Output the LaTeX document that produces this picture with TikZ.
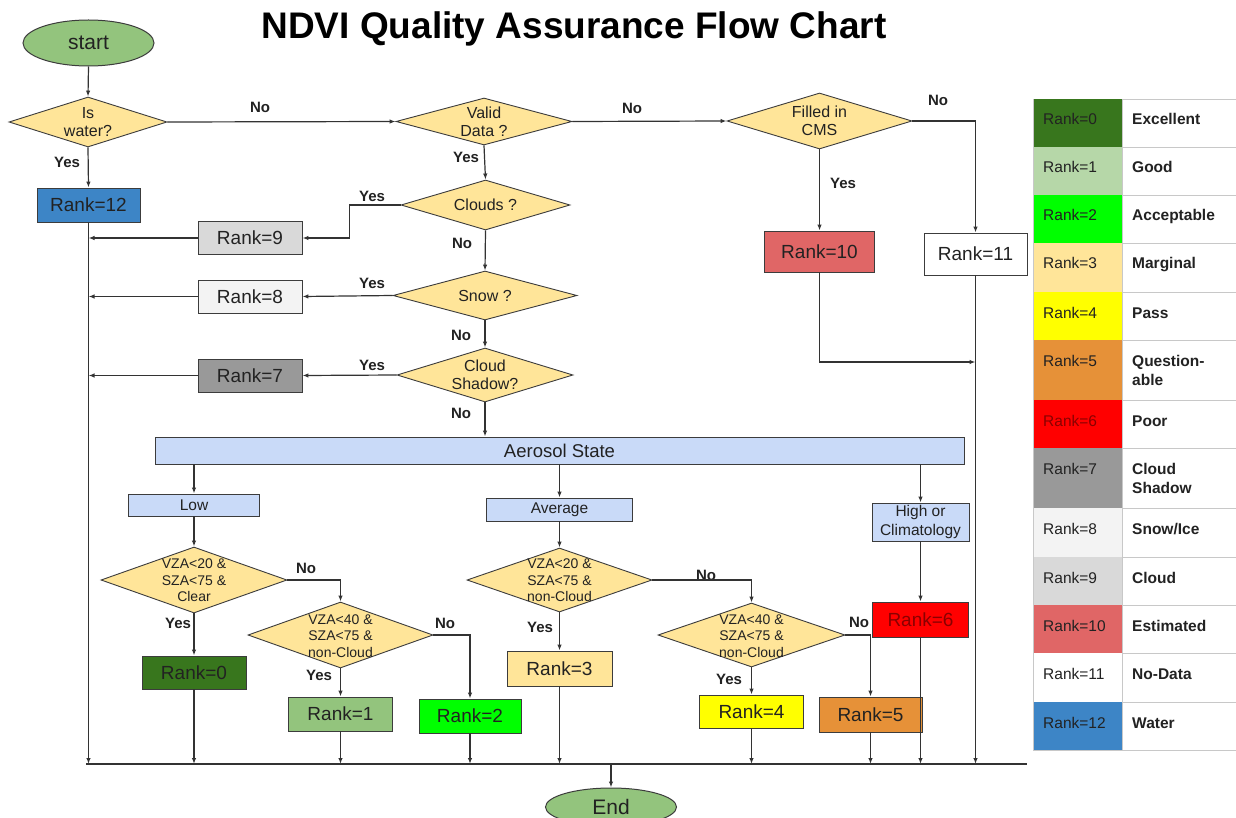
\documentclass[tikz,border=0pt]{standalone}
\usepackage{fontspec}
\setmainfont{Liberation Sans}
\usetikzlibrary{shapes.geometric,arrows.meta,calc}

\definecolor{edge}{HTML}{3C3C3C}
\definecolor{wire}{HTML}{333333}
\definecolor{ink}{HTML}{222222}
\definecolor{rulegray}{HTML}{C8C8C8}
\definecolor{diafill}{HTML}{FFE599}
\definecolor{bluefill}{HTML}{C9DAF8}
\definecolor{termfill}{HTML}{93C47D}
\definecolor{rk0}{HTML}{38761D}
\definecolor{rk1}{HTML}{B6D7A8}
\definecolor{rkone}{HTML}{93C47D}
\definecolor{rk2}{HTML}{00FF00}
\definecolor{rk3}{HTML}{FFE599}
\definecolor{rk4}{HTML}{FFFF00}
\definecolor{rk5}{HTML}{E69138}
\definecolor{rk6}{HTML}{FF0000}
\definecolor{rk7}{HTML}{999999}
\definecolor{rk8}{HTML}{F3F3F3}
\definecolor{rk9}{HTML}{D9D9D9}
\definecolor{rk10}{HTML}{E06666}
\definecolor{rk11}{HTML}{FFFFFF}
\definecolor{rk12}{HTML}{3D85C6}
\definecolor{darkred}{HTML}{8A0000}

\begin{document}
\begin{tikzpicture}[x=1pt,y=-1pt,
  every node/.style={text=ink},
  term/.style={ellipse, draw=edge, fill=termfill, line width=1pt, inner sep=0pt,
    font=\fontsize{21}{24}\selectfont},
  dia/.style={diamond, draw=edge, fill=diafill, line width=0.9pt, inner sep=0pt},
  dtext/.style={align=center, inner sep=0pt, font=\fontsize{16}{18}\selectfont},
  ctext/.style={align=center, inner sep=0pt, font=\fontsize{14}{16.5}\selectfont},
  rbox/.style={rectangle, draw=edge, line width=0.9pt, inner sep=0pt,
    font=\fontsize{19}{22}\selectfont},
  sbox/.style={rectangle, draw=edge, fill=bluefill, line width=0.9pt, inner sep=0pt,
    align=center, font=\fontsize{15.5}{19}\selectfont},
  lab/.style={inner sep=0pt, font={\fontsize{15}{17}\selectfont\bfseries}},
  conn/.style={draw=wire, line width=1.2pt, -{Latex[length=6pt,width=4.5pt]}},
  plain/.style={draw=wire, line width=1.2pt},
  legr/.style={inner sep=0pt, font=\fontsize{15.5}{18}\selectfont},
  legl/.style={inner sep=0pt, font={\fontsize{15.5}{18}\selectfont\bfseries}},
  rule/.style={draw=rulegray, line width=0.9pt}
]
\fill[white] (0,0) rectangle (1236,818);
\useasboundingbox (0,0) rectangle (1236,818);

% title
\node[font={\fontsize{37}{40}\selectfont\bfseries}, text=black] (title) at (574,29)
  {NDVI Quality Assurance Flow Chart};

% terminals
\node[term, minimum width=131, minimum height=46] (start) at (88.5,43) {start};
\node[term, minimum width=131, minimum height=38] (end) at (611,807) {End};

% decision diamonds
\node[dia, minimum width=158, minimum height=50] (isw) at (88,122) {};
\node[dtext] (iswt) at (isw) {Is\\water?};
\node[dia, minimum width=176, minimum height=47] (valid) at (484,121.5) {};
\node[dtext] (validt) at (valid) {Valid\\Data ?};
\node[dia, minimum width=185, minimum height=56] (filled) at (819.5,121) {};
\node[dtext] (filledt) at (filled) {Filled in\\CMS};
\node[dia, minimum width=169, minimum height=50] (clouds) at (485.5,205) {};
\node[dtext] (cloudst) at (clouds) {Clouds ?};
\node[dia, minimum width=184, minimum height=49] (snow) at (485,295.5) {};
\node[dtext] (snowt) at (snow) {Snow ?};
\node[dia, minimum width=176, minimum height=54] (cshadow) at (485,375) {};
\node[dtext] (cshadowt) at (cshadow) {Cloud\\Shadow?};

\node[dia, minimum width=186, minimum height=66] (d1) at (194,580) {};
\node[ctext] (d1t) at (194,580.5) {VZA<20 \&\\SZA<75 \&\\Clear};
\node[dia, minimum width=185, minimum height=66] (d2) at (340.5,635) {};
\node[ctext] (d2t) at (340.5,636) {VZA<40 \&\\SZA<75 \&\\non-Cloud};
\node[dia, minimum width=185, minimum height=64] (d3) at (559.5,580) {};
\node[ctext] (d3t) at (559.5,580.5) {VZA<20 \&\\SZA<75 \&\\non-Cloud};
\node[dia, minimum width=187, minimum height=64] (d4) at (751.5,635) {};
\node[ctext] (d4t) at (751.5,636) {VZA<40 \&\\SZA<75 \&\\non-Cloud};

% rank boxes
\node[rbox, fill=rk12, minimum width=103, minimum height=34] (r12) at (88.5,205) {Rank=12};
\node[rbox, fill=rk10, minimum width=110, minimum height=41] (r10) at (819.5,251.5) {Rank=10};
\node[rbox, fill=rk11, minimum width=103, minimum height=42] (r11) at (975.5,254) {Rank=11};
\node[rbox, fill=rk9, minimum width=104, minimum height=33] (r9) at (250,238) {Rank=9};
\node[rbox, fill=rk8, minimum width=104, minimum height=33] (r8) at (250,296.5) {Rank=8};
\node[rbox, fill=rk7, minimum width=104, minimum height=33] (r7) at (250,375.5) {Rank=7};
\node[rbox, fill=rk0, minimum width=104, minimum height=33] (r0) at (194,672.5) {Rank=0};
\node[rbox, fill=rkone, minimum width=104, minimum height=34] (r1) at (340.5,714) {Rank=1};
\node[rbox, fill=rk2, minimum width=102, minimum height=34] (r2) at (470,716) {Rank=2};
\node[rbox, fill=rk3, minimum width=105, minimum height=35] (r3) at (559.5,668.5) {Rank=3};
\node[rbox, fill=rk4, minimum width=104, minimum height=33] (r4) at (751.5,711.5) {Rank=4};
\node[rbox, fill=rk5, minimum width=103, minimum height=35] (r5) at (870.5,714.5) {Rank=5};
\node[rbox, fill=rk6, text=darkred, minimum width=96, minimum height=35] (r6) at (920.5,619.5) {Rank=6};

% aerosol state boxes
\node[sbox, minimum width=809, minimum height=27, font=\fontsize{18.5}{21}\selectfont]
  (aer) at (559.5,450.5) {Aerosol State};
\node[sbox, minimum width=131, minimum height=22] (low) at (194,505) {Low};
\node[sbox, minimum width=146, minimum height=23] (avg) at (559.5,509.5) {Average};
\node[sbox, minimum width=97, minimum height=38] (high) at (920.5,522) {High or\\Climatology};

% collecting bus
\coordinate (busL) at (86,764);
\coordinate (busR) at (1027,764);
\coordinate (j10) at (r11.south |- 0,362);

% branch labels
\node[lab] (l1) at (260,107) {No};
\node[lab] (l2) at (632,108) {No};
\node[lab] (l3) at (938,100) {No};
\node[lab] (l4) at (67,162) {Yes};
\node[lab] (l5) at (466,157) {Yes};
\node[lab] (l6) at (843,183) {Yes};
\node[lab] (l7) at (372,196) {Yes};
\node[lab] (l8) at (462,243) {No};
\node[lab] (l9) at (372,283) {Yes};
\node[lab] (l10) at (461,335) {No};
\node[lab] (l11) at (372,365) {Yes};
\node[lab] (l12) at (461,413) {No};
\node[lab] (l13) at (306,568) {No};
\node[lab] (l14) at (178,623) {Yes};
\node[lab] (l15) at (445,623) {No};
\node[lab] (l16) at (319,675) {Yes};
\node[lab] (l17) at (706,575) {No};
\node[lab] (l18) at (540,627) {Yes};
\node[lab] (l19) at (859,622) {No};
\node[lab] (l20) at (729,679) {Yes};

% connectors: top part
\draw[conn] (start.south) -- (isw.north);
\draw[conn] (isw.east) -- (valid.west);
\draw[conn] (valid.east) -- (filled.west);
\draw[conn] (filled.east) -| (r11.north);
\draw[conn] (filled.south) -- (r10.north);
\draw[conn] (r10.south) |- (j10);
\draw[conn] (isw.south) -- (r12.north);
\draw[conn] (valid.south) -- (clouds.north);
\draw[conn] (clouds.west) -- ++(-51,0) |- (r9.east);
\draw[conn] (clouds.south) -- (snow.north);
\draw[conn] (snow.south) -- (cshadow.north);
\draw[conn] (cshadow.south) -- (cshadow.south |- aer.north);
\draw[conn] (snow.west) -- (r8.east);
\draw[conn] (cshadow.west) -- (r7.east);
\draw[conn] (r9.west) -- (r9.west -| r12.south);
\draw[conn] (r8.west) -- (r8.west -| r12.south);
\draw[conn] (r7.west) -- (r7.west -| r12.south);

% connectors: aerosol branches
\draw[conn] (aer.south -| low.north) -- (low.north);
\draw[conn] (aer.south -| avg.north) -- (avg.north);
\draw[conn] (aer.south -| high.north) -- (high.north);
\draw[conn] (low.south) -- (d1.north);
\draw[conn] (d1.south) -- (r0.north);
\draw[conn] (d1.east) -| (d2.north);
\draw[conn] (d2.south) -- (r1.north);
\draw[conn] (d2.east) -| (r2.north);
\draw[conn] (avg.south) -- (d3.north);
\draw[conn] (d3.south) -- (r3.north);
\draw[conn] (d3.east) -| (d4.north);
\draw[conn] (d4.south) -- (r4.north);
\draw[conn] (d4.east) -| (r5.north);
\draw[conn] (high.south) -- (r6.north);

% connectors: into the bus
\draw[plain] (busL) -- (busR);
\draw[conn] (r12.south) -- (r12.south |- busL);
\draw[conn] (r11.south) -- (r11.south |- busL);
\foreach \r in {r0,r1,r2,r3,r4,r5,r6}
  \draw[conn] (\r.south) -- (\r.south |- busL);
\draw[conn] (end.north |- busL) -- (end.north);

% rank legend
\draw[rule] (1033,99) -- (1236,99);
\foreach \i/\ya/\yb/\tc/\la/\lb in {
  0/99/147/ink/Excellent/{},
  1/147/195/ink/Good/{},
  2/195/243/ink/Acceptable/{},
  3/243/292/ink/Marginal/{},
  4/292/340/ink/Pass/{},
  5/340/400/ink/Question-/able,
  6/400/448/darkred/Poor/{},
  7/448/508/ink/Cloud/Shadow,
  8/508/557/ink/{Snow/Ice}/{},
  9/557/605/ink/Cloud/{},
  10/605/653/ink/Estimated/{},
  11/653/702/ink/No-Data/{},
  12/702/750/ink/Water/{}}{
  \fill[rk\i] (1033,\ya) rectangle (1122,\yb);
  \draw[rule] (1033,\yb) -- (1236,\yb);
  \node[legr, anchor=base west, text=\tc] (legr\i) at (1043,\ya+26) {Rank=\i};
  \node[legl, anchor=base west] (legl\i) at (1132,\ya+26) {\la};
  \node[legl, anchor=base west] (legm\i) at (1132,\ya+45) {\lb};
}
\draw[rule] (1033,99) -- (1033,750);
\draw[rule] (1122,99) -- (1122,750);
\end{tikzpicture}
\end{document}
